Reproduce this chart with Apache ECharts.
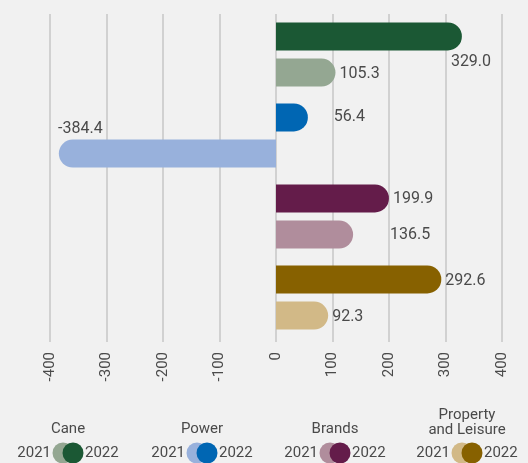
<!DOCTYPE html>
<html>
<head>
<meta charset="utf-8">
<style>
  html, body { margin: 0; padding: 0; background: #f1f1f1; }
  #chart { width: 528px; height: 463px; }
</style>
<script src="https://cdn.jsdelivr.net/npm/echarts@6/dist/echarts.min.js"></script>
</head>
<body>
<div id="chart"></div>
<script>
// data
var categories = ['Cane', 'Power', 'Brands', 'Property\nand Leisure'];
var values2022 = [329.0, 56.4, 199.9, 292.6];
var values2021 = [105.3, -384.4, 136.5, 92.3];
var xTicks = [-400, -300, -200, -100, 0, 100, 200, 300, 400];

// styles
var colors2022 = ['#1b5834', '#0066b3', '#641c4a', '#876100'];
var colors2021 = ['#94a792', '#98b1dc', '#b08d9c', '#d2b987'];
var offsets2022 = [[-15, 26], [22, 0], [0, 1], [0, 2]];
var offsets2021 = [[0, 1], [-87, 0], [33, 0], [0, 1]];

var chart = echarts.init(document.getElementById('chart'));

function barData(vals, cols, offs) {
  return vals.map(function (v, i) {
    var neg = v < 0;
    return {
      value: v,
      itemStyle: {
        color: cols[i],
        borderRadius: neg ? [14, 0, 0, 14] : [0, 14, 14, 0]
      },
      label: neg ? { position: 'top', distance: 3, offset: offs[i] } : { offset: offs[i] }
    };
  });
}

var labelStyle = {
  show: true,
  position: 'right',
  distance: 4,
  color: '#4a4a4a',
  fontFamily: 'Roboto',
  fontSize: 16,
  formatter: function (p) { return p.value.toFixed(1); }
};

// legend drawn as graphics
var legendCenters = [68, 202, 335, 467];
var graphics = [];
categories.forEach(function (name, i) {
  var cx = legendCenters[i];
  graphics.push({
    type: 'text', x: cx, y: name.indexOf('\n') >= 0 ? 423 : 429,
    style: {
      text: name, fill: '#4a4a4a', font: '15px Roboto',
      align: 'center', verticalAlign: 'middle', lineHeight: 15
    }
  });
  graphics.push({ type: 'circle', shape: { cx: cx - 5, cy: 453, r: 10.5 }, style: { fill: colors2021[i] } });
  graphics.push({ type: 'circle', shape: { cx: cx + 5, cy: 453, r: 10.5 }, style: { fill: colors2022[i] } });
  graphics.push({
    type: 'text', x: cx - 17, y: 453,
    style: { text: '2021', fill: '#4a4a4a', font: '15px Roboto', align: 'right', verticalAlign: 'middle' }
  });
  graphics.push({
    type: 'text', x: cx + 17, y: 453,
    style: { text: '2022', fill: '#4a4a4a', font: '15px Roboto', align: 'left', verticalAlign: 'middle' }
  });
});

var option = {
  backgroundColor: '#f1f1f1',
  animation: false,
  grid: { left: 50, right: 26, top: 14, bottom: 125 },
  xAxis: {
    type: 'value',
    min: xTicks[0],
    max: xTicks[xTicks.length - 1],
    interval: 100,
    axisLine: { show: false },
    axisTick: { show: true, length: 4, lineStyle: { color: '#c6c6c6', width: 1.5 } },
    splitLine: { show: true, lineStyle: { color: '#c6c6c6', width: 1.5 } },
    axisLabel: {
      rotate: 90,
      margin: 14,
      color: '#4a4a4a',
      fontFamily: 'Roboto',
      fontSize: 15
    }
  },
  yAxis: {
    type: 'category',
    inverse: true,
    data: categories,
    axisLine: { show: false },
    axisTick: { show: false },
    axisLabel: { show: false }
  },
  series: [
    {
      name: '2022',
      type: 'bar',
      barWidth: 28,
      barGap: '29%',
      label: labelStyle,
      data: barData(values2022, colors2022, offsets2022)
    },
    {
      name: '2021',
      type: 'bar',
      barWidth: 28,
      barGap: '29%',
      label: labelStyle,
      data: barData(values2021, colors2021, offsets2021)
    }
  ],
  graphic: graphics
};

chart.setOption(option);

window.onresize = function () {
  chart.resize();
};
</script>
</body>
</html>
